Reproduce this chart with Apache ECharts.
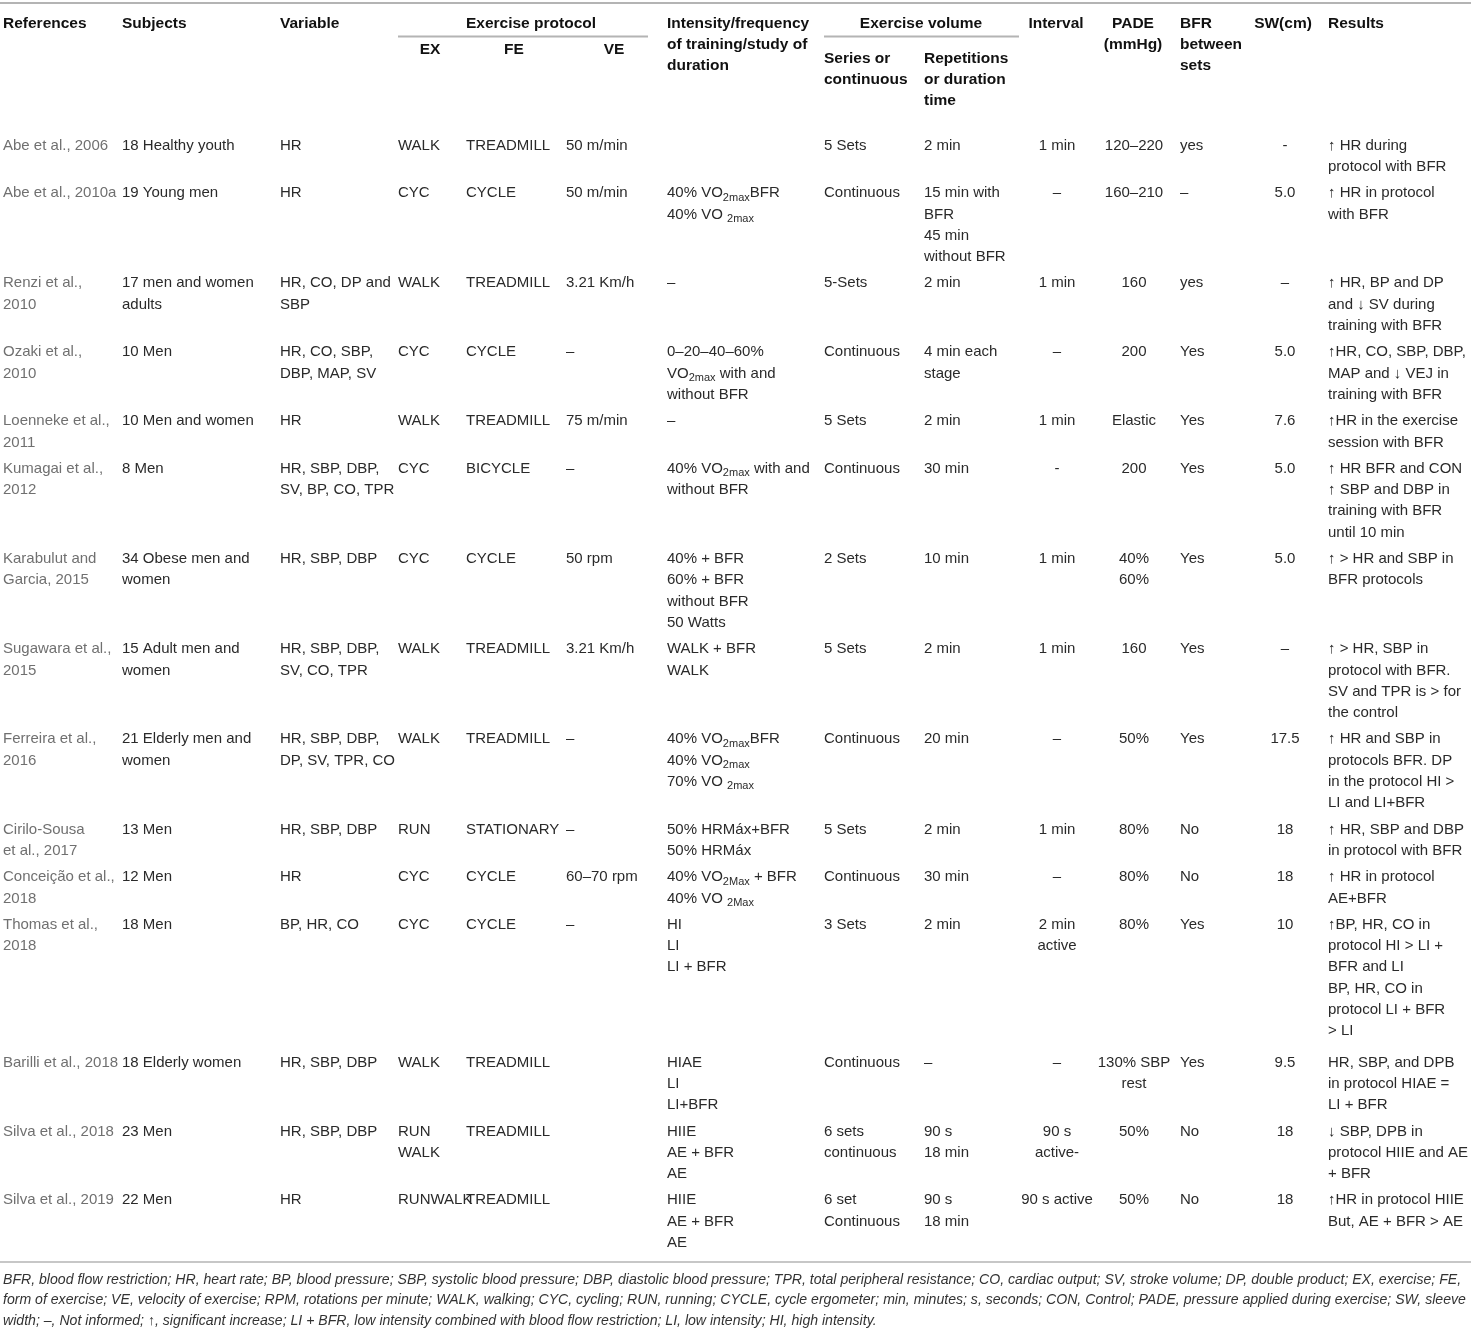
<!DOCTYPE html>
<html><head><meta charset="utf-8">
<script src="https://cdn.jsdelivr.net/npm/echarts@6/dist/echarts.min.js"></script>
<style>html,body{margin:0;padding:0;background:#fff}#c{width:1471px;height:1330px}</style>
</head><body><div id="c"></div>
<script>
// ---------- DATA ----------
const references = ["Abe et al., 2006","Abe et al., 2010a","Renzi et al.,\n2010","Ozaki et al.,\n2010","Loenneke et al.,\n2011","Kumagai et al.,\n2012","Karabulut and\nGarcia, 2015","Sugawara et al.,\n2015","Ferreira et al.,\n2016","Cirilo-Sousa\net al., 2017","Conceição et al.,\n2018","Thomas et al.,\n2018","Barilli et al., 2018","Silva et al., 2018","Silva et al., 2019"];
const subjects = ["18 Healthy youth","19 Young men","17 men and women\nadults","10 Men","10 Men and women","8 Men","34 Obese men and\nwomen","15 Adult men and\nwomen","21 Elderly men and\nwomen","13 Men","12 Men","18 Men","18 Elderly women","23 Men","22 Men"];
const variables = ["HR","HR","HR, CO, DP and\nSBP","HR, CO, SBP,\nDBP, MAP, SV","HR","HR, SBP, DBP,\nSV, BP, CO, TPR","HR, SBP, DBP","HR, SBP, DBP,\nSV, CO, TPR","HR, SBP, DBP,\nDP, SV, TPR, CO","HR, SBP, DBP","HR","BP, HR, CO","HR, SBP, DBP","HR, SBP, DBP","HR"];
const exerciseEX = ["WALK","CYC","WALK","CYC","WALK","CYC","CYC","WALK","WALK","RUN","CYC","CYC","WALK","RUN\nWALK","RUNWALK"];
const exerciseFE = ["TREADMILL","CYCLE","TREADMILL","CYCLE","TREADMILL","BICYCLE","CYCLE","TREADMILL","TREADMILL","STATIONARY","CYCLE","CYCLE","TREADMILL","TREADMILL","TREADMILL"];
const exerciseVE = ["50 m/min","50 m/min","3.21 Km/h","–","75 m/min","–","50 rpm","3.21 Km/h","–","–","60–70 rpm","–","","",""];
const intensity = ["","40% VO{s|2max}BFR\n40% VO {s|2max}","–","0–20–40–60%\nVO{s|2max} with and\nwithout BFR","–","40% VO{s|2max} with and\nwithout BFR","40% + BFR\n60% + BFR\nwithout BFR\n50 Watts","WALK + BFR\nWALK","40% VO{s|2max}BFR\n40% VO{s|2max}\n70% VO {s|2max}","50% HRMáx+BFR\n50% HRMáx","40% VO{s|2Max} + BFR\n40% VO {s|2Max}","HI\nLI\nLI + BFR","HIAE\nLI\nLI+BFR","HIIE\nAE + BFR\nAE","HIIE\nAE + BFR\nAE"];
const seriesOrContinuous = ["5 Sets","Continuous","5-Sets","Continuous","5 Sets","Continuous","2 Sets","5 Sets","Continuous","5 Sets","Continuous","3 Sets","Continuous","6 sets\ncontinuous","6 set\nContinuous"];
const repetitions = ["2 min","15 min with\nBFR\n45 min\nwithout BFR","2 min","4 min each\nstage","2 min","30 min","10 min","2 min","20 min","2 min","30 min","2 min","–","90 s\n18 min","90 s\n18 min"];
const intervals = ["1 min","–","1 min","–","1 min","-","1 min","1 min","–","1 min","–","2 min\nactive","–","90 s\nactive-","90 s active"];
const pade = ["120–220","160–210","160","200","Elastic","200","40%\n60%","160","50%","80%","80%","80%","130% SBP\nrest","50%","50%"];
const bfrBetweenSets = ["yes","–","yes","Yes","Yes","Yes","Yes","Yes","Yes","No","No","Yes","Yes","No","No"];
const sleeveWidth = ["-","5.0","–","5.0","7.6","5.0","5.0","–","17.5","18","18","10","9.5","18","18"];
const results = ["↑ HR during\nprotocol with BFR","↑ HR in protocol\nwith BFR","↑ HR, BP and DP\nand ↓ SV during\ntraining with BFR","↑HR, CO, SBP, DBP,\nMAP and ↓ VEJ in\ntraining with BFR","↑HR in the exercise\nsession with BFR","↑ HR BFR and CON\n↑ SBP and DBP in\ntraining with BFR\nuntil 10 min","↑ > HR and SBP in\nBFR protocols","↑ > HR, SBP in\nprotocol with BFR.\nSV and TPR is > for\nthe control","↑ HR and SBP in\nprotocols BFR. DP\nin the protocol HI >\nLI and LI+BFR","↑ HR, SBP and DBP\nin protocol with BFR","↑ HR in protocol\nAE+BFR","↑BP, HR, CO in\nprotocol HI > LI +\nBFR and LI\nBP, HR, CO in\nprotocol LI + BFR\n> LI","HR, SBP, and DPB\nin protocol HIAE =\nLI + BFR","↓ SBP, DPB in\nprotocol HIIE and AE\n+ BFR","↑HR in protocol HIIE\nBut, AE + BFR > AE"];

const headerTop = ["References","Subjects","Variable","Exercise protocol","Intensity/frequency\nof training/study of\nduration","Exercise volume","Interval","PADE\n(mmHg)","BFR\nbetween\nsets","SW(cm)","Results"];
const headerSub = ["EX","FE","VE","Series or\ncontinuous","Repetitions\nor duration\ntime"];
const footnote = [
"BFR, blood flow restriction; HR, heart rate; BP, blood pressure; SBP, systolic blood pressure; DBP, diastolic blood pressure; TPR, total peripheral resistance; CO, cardiac output; SV, stroke volume; DP, double product; EX, exercise; FE,",
"form of exercise; VE, velocity of exercise; RPM, rotations per minute; WALK, walking; CYC, cycling; RUN, running; CYCLE, cycle ergometer; min, minutes; s, seconds; CON, Control; PADE, pressure applied during exercise; SW, sleeve",
"width; –, Not informed; ↑, significant increase; LI + BFR, low intensity combined with blood flow restriction; LI, low intensity; HI, high intensity."
];

// ---------- LAYOUT / STYLE ----------
const FONT = '"Liberation Sans", Arial, Helvetica, sans-serif';
const BODY_FILL = '#2a2a2a';
const bodyCols = [
  {vals: references, x: 3, align: 'left', fill: '#707070'},
  {vals: subjects, x: 122, align: 'left'},
  {vals: variables, x: 280, align: 'left'},
  {vals: exerciseEX, x: 398, align: 'left'},
  {vals: exerciseFE, x: 466, align: 'left'},
  {vals: exerciseVE, x: 566, align: 'left'},
  {vals: intensity, x: 667, align: 'left'},
  {vals: seriesOrContinuous, x: 824, align: 'left'},
  {vals: repetitions, x: 924, align: 'left'},
  {vals: intervals, x: 1057, align: 'center'},
  {vals: pade, x: 1134, align: 'center'},
  {vals: bfrBetweenSets, x: 1180, align: 'left'},
  {vals: sleeveWidth, x: 1285, align: 'center'},
  {vals: results, x: 1328, align: 'left'}
];
const headTopLayout = [
  {x: 3, align: 'left'}, {x: 122, align: 'left'}, {x: 280, align: 'left'},
  {x: 531, align: 'center'}, {x: 667, align: 'left'}, {x: 921, align: 'center'},
  {x: 1056, align: 'center'}, {x: 1133, align: 'center'}, {x: 1180, align: 'left'},
  {x: 1283, align: 'center'}, {x: 1328, align: 'left'}
];
const headSubLayout = [
  {x: 430, y: 49.5, align: 'center'}, {x: 514, y: 49.5, align: 'center'}, {x: 614, y: 49.5, align: 'center'},
  {x: 824, y: 58.5, align: 'left'}, {x: 924, y: 58.5, align: 'left'}
];
const HEAD_Y = 23.5, HEAD_LH = 21;
const FIRST_ROW_Y = 145.5, LINE_H = 21.3, ROW_GAP = 5;
const rowExtraGap = [0,0,0,0,0,0,0,0,0,0,0,5,0,0,0];
const rules = [
  {x1: 0, x2: 1471, y: 3, w: 2},
  {x1: 398, x2: 648, y: 36.5, w: 2},
  {x1: 824, x2: 1019, y: 36.5, w: 2},
  {x1: 0, x2: 1471, y: 1262, w: 1.5}
];
const FOOT_Y = 1280, FOOT_LH = 20.5;

// row positions computed from line counts
const nRows = references.length;
const rowY = [];
let yCur = FIRST_ROW_Y;
for (let r = 0; r < nRows; r++) {
  rowY.push(yCur);
  const n = Math.max(...bodyCols.map(c => c.vals[r].split('\n').length));
  yCur += n * LINE_H + ROW_GAP + rowExtraGap[r];
}

const richSub = {s: {fontSize: 11, fontFamily: FONT, lineHeight: 11, verticalAlign: 'bottom', fill: BODY_FILL}};

function textEl(api, x, y, txt, opt) {
  const p = api.coord([x, y]);
  return {
    type: 'text', x: p[0], y: p[1], silent: true,
    style: Object.assign({
      text: txt, fontFamily: FONT, fontSize: 15, fill: BODY_FILL, lineHeight: 20,
      align: 'left', verticalAlign: 'middle', rich: richSub
    }, opt)
  };
}

const bodyData = [];
for (let r = 0; r < nRows; r++) for (let c = 0; c < bodyCols.length; c++) bodyData.push([c, r]);

const chart = echarts.init(document.getElementById('c'), null, {renderer: 'canvas'});
chart.setOption({
  animation: false,
  grid: {left: 0, right: 0, top: 0, bottom: 0},
  xAxis: {type: 'value', min: 0, max: 1471, show: false},
  yAxis: {type: 'value', min: 0, max: 1330, inverse: true, show: false},
  series: [
    { // rules
      type: 'custom', data: rules.map((_, i) => [i]), silent: true,
      renderItem: (params, api) => {
        const rl = rules[api.value(0)];
        const a = api.coord([rl.x1, rl.y]), b = api.coord([rl.x2, rl.y]);
        return {type: 'line', shape: {x1: a[0], y1: a[1], x2: b[0], y2: b[1]}, style: {stroke: '#b4b4b4', lineWidth: rl.w}};
      }
    },
    { // header top
      type: 'custom', data: headerTop.map((_, i) => [i]), silent: true,
      renderItem: (params, api) => {
        const i = api.value(0), L = headTopLayout[i];
        return {type: 'group', children: headerTop[i].split('\n').map((ln, k) =>
          textEl(api, L.x, HEAD_Y + k * HEAD_LH, ln, {align: L.align, fontWeight: 'bold', fontSize: 15.5, fill: '#111'}))};
      }
    },
    { // header sub
      type: 'custom', data: headerSub.map((_, i) => [i]), silent: true,
      renderItem: (params, api) => {
        const i = api.value(0), L = headSubLayout[i];
        return {type: 'group', children: headerSub[i].split('\n').map((ln, k) =>
          textEl(api, L.x, L.y + k * HEAD_LH, ln, {align: L.align, fontWeight: 'bold', fontSize: 15.5, fill: '#111'}))};
      }
    },
    { // body cells
      type: 'custom', data: bodyData, silent: true,
      renderItem: (params, api) => {
        const c = api.value(0), r = api.value(1), col = bodyCols[c];
        const txt = col.vals[r];
        if (!txt) return {type: 'group', children: []};
        return {type: 'group', children: txt.split('\n').map((ln, k) =>
          textEl(api, col.x, rowY[r] + k * LINE_H, ln, {align: col.align, fill: col.fill || BODY_FILL}))};
      }
    },
    { // footnote
      type: 'custom', data: footnote.map((_, i) => [i]), silent: true,
      renderItem: (params, api) => {
        const i = api.value(0);
        return textEl(api, 3, FOOT_Y + i * FOOT_LH, footnote[i], {fontStyle: 'italic', fontSize: 14.1, fill: '#333', rich: {}});
      }
    }
  ]
});
</script>
</body></html>
